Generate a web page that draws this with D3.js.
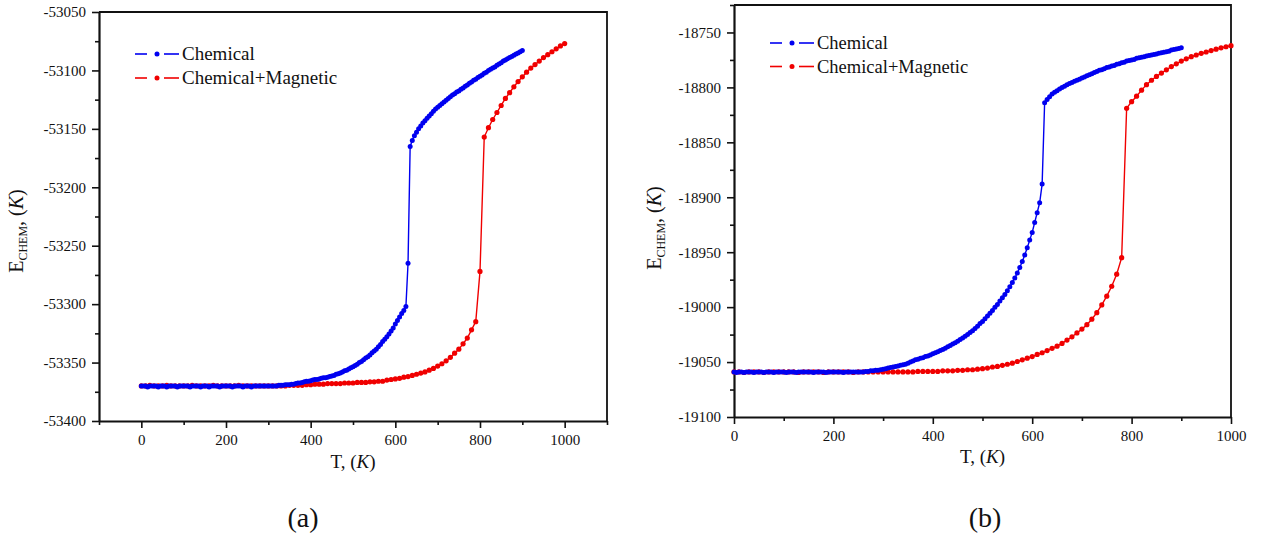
<!DOCTYPE html>
<html>
<head>
<meta charset="utf-8">
<script src="https://cdn.jsdelivr.net/npm/d3@7"></script>
<style>
  html, body { margin: 0; padding: 0; background: #fff; }
  svg { display: block; }
  svg text { font-family: "Liberation Serif", "Times New Roman", Times, Tinos, "DejaVu Serif", "Noto Serif", serif !important; fill: #111; }
</style>
</head>
<body>
<svg id="chart" width="1264" height="537"></svg>
<script>
// ---------------- DATA ----------------
// temperature grids (K)
const tChem = [0,5,10,15,20,25,30,35,40,45,50,55,60,65,70,75,80,85,90,95,
100,105,110,115,120,125,130,135,140,145,150,155,160,165,170,175,180,185,190,195,
200,205,210,215,220,225,230,235,240,245,250,255,260,265,270,275,280,285,290,295,
300,305,310,315,320,325,330,335,340,345,350,355,360,365,370,375,380,385,390,395,
400,405,410,415,420,425,430,435,440,445,450,455,460,465,470,475,480,485,490,495,
500,505,510,515,520,525,530,535,540,545,550,555,560,565,570,575,580,585,590,595,
600,605,610,615,620,625,630,635,640,645,650,655,660,665,670,675,680,685,690,695,
700,705,710,715,720,725,730,735,740,745,750,755,760,765,770,775,780,785,790,795,
800,805,810,815,820,825,830,835,840,845,850,855,860,865,870,875,880,885,890,895,900];
const tMag = [0,10,20,30,40,50,60,70,80,90,100,110,120,130,140,150,160,170,180,190,
200,210,220,230,240,250,260,270,280,290,300,310,320,330,340,350,360,370,380,390,
400,410,420,430,440,450,460,470,480,490,500,510,520,530,540,550,560,570,580,590,
600,610,620,630,640,650,660,670,680,690,700,710,720,730,740,750,760,770,780,790,
800,810,820,830,840,850,860,870,880,890,900,910,920,930,940,950,960,970,980,990,1000];

// (a) Chemical, E_CHEM (K) at tChem
const chemA = [
-53370,-53370,-53370,-53371,-53370,-53370,-53370,-53370,-53371,-53370,
-53370,-53370,-53371,-53370,-53370,-53370,-53370,-53371,-53370,-53370,
-53370,-53370,-53370,-53371,-53370,-53370,-53370,-53370,-53371,-53370,
-53370,-53370,-53371,-53370,-53370,-53370,-53370,-53371,-53370,-53370,
-53370,-53370,-53370,-53371,-53370,-53370,-53370,-53370,-53371,-53370,
-53370,-53370,-53371,-53370,-53370,-53370,-53370,-53370,-53370,-53370,
-53370,-53370,-53370,-53370,-53370,-53369.5,-53369.5,-53369.5,-53369,-53369,
-53369,-53368.5,-53368.5,-53368,-53367.5,-53367.5,-53367,-53366.5,-53366,-53366,
-53365.5,-53365,-53364.5,-53364.5,-53364,-53363.5,-53363,-53363,-53362.5,-53362,
-53361.5,-53361,-53360,-53359.5,-53359,-53358,-53357,-53356.5,-53355.5,-53354.5,
-53353.5,-53352.5,-53351.5,-53350,-53349,-53347.5,-53346,-53345,-53343.5,-53341.5,
-53340,-53338.5,-53336.5,-53334.5,-53332,-53330,-53328,-53325.5,-53323,-53320.5,
-53317,-53314,-53311,-53308,-53305.5,-53302,-53265,-53165,-53160,-53156,
-53153,-53150,-53147.5,-53145,-53143,-53141,-53139,-53137,-53135,-53133,
-53131.5,-53130,-53128.5,-53127,-53125.5,-53124,-53122.5,-53121,-53120,-53118.5,
-53117.5,-53116,-53115,-53113.5,-53112.5,-53111,-53110,-53108.5,-53107.5,-53106,
-53105,-53104,-53102.5,-53101.5,-53100,-53099,-53098,-53097,-53095.5,-53094.5,
-53093.5,-53092,-53091,-53090,-53089,-53088,-53087,-53086,-53085,-53084,
-53083];

// (a) Chemical+Magnetic at tMag
const magA = [
-53370,-53370,-53369.5,-53370,-53370,-53370,-53369.5,-53370,-53370,-53370,
-53370,-53370,-53369.5,-53370,-53370,-53370,-53370,-53369.5,-53370,-53370,
-53370,-53370,-53370,-53369.5,-53370,-53370,-53370,-53370,-53370,-53370,
-53370,-53370,-53370,-53370,-53370,-53369.5,-53369.5,-53369.5,-53369.5,-53369,
-53369,-53368.5,-53368.5,-53368.5,-53368,-53368,-53368,-53368,-53367.5,-53367.5,
-53367.5,-53367,-53367,-53367,-53366.5,-53366.5,-53366,-53366,-53365,-53364.5,
-53364,-53363.5,-53362.5,-53362,-53361,-53360,-53359,-53358,-53356.5,-53355,
-53353,-53351,-53348.5,-53345.5,-53342,-53338.5,-53334,-53329,-53322,-53315,
-53272,-53157,-53149,-53142,-53136,-53130,-53124,-53119,-53114,-53109.5,
-53105.5,-53101.5,-53098,-53095,-53092,-53089,-53086.5,-53084,-53081.5,-53079,
-53077];

// (b) Chemical at tChem
const chemB = [
-19059,-19059.5,-19059,-19059,-19059.5,-19059,-19059,-19059,-19059.5,-19059,
-19059,-19059,-19059.5,-19059,-19059,-19059,-19059.5,-19059,-19059,-19059,
-19059,-19059.5,-19059,-19059,-19059,-19059.5,-19059,-19059,-19059,-19059,
-19059,-19059,-19059.5,-19059,-19059,-19059,-19059,-19059.5,-19059,-19059,
-19059,-19059,-19059,-19059,-19059.5,-19059,-19059,-19059,-19059,-19059,
-19059,-19059,-19059,-19058.5,-19058.5,-19058,-19058,-19057.5,-19057.5,-19057,
-19056.5,-19056,-19055.5,-19055,-19054.5,-19054,-19053.5,-19053,-19052.5,-19052,
-19051,-19050,-19049,-19048,-19047.5,-19046.5,-19046,-19045,-19044.5,-19043.5,
-19042.5,-19041.5,-19040.5,-19039.5,-19038.5,-19037.5,-19036,-19035,-19033.5,-19032.5,
-19031,-19029.5,-19028,-19026.5,-19025,-19023,-19021.5,-19019.5,-19017.5,-19015,
-19013,-19010.5,-19008,-19005.5,-19003,-19000,-18997.5,-18994.5,-18991.5,-18988.5,
-18985,-18981.5,-18977.5,-18973.5,-18969,-18964,-18958.5,-18952.5,-18946,-18939,
-18932,-18923,-18914,-18905,-18888,-18814,-18811,-18808.5,-18806,-18804.5,
-18803,-18801.5,-18800,-18799,-18797.5,-18796.5,-18795.5,-18794.5,-18793.5,-18792.5,
-18791.5,-18790.5,-18789.5,-18788.5,-18787.5,-18786.5,-18785.5,-18784.5,-18784,-18783,
-18782,-18781.5,-18780.5,-18780,-18779,-18778.5,-18777.5,-18777,-18776,-18775.5,
-18775,-18774.5,-18773.5,-18773,-18772.5,-18772,-18771.5,-18771,-18770.5,-18770,
-18769.5,-18769,-18768.5,-18768,-18767.5,-18767,-18766,-18765.5,-18765,-18764.5,
-18764];

// (b) Chemical+Magnetic at tMag
const magB = [
-19059,-19059,-19059.5,-19059,-19059,-19059,-19059.5,-19059,-19059,-19059,
-19059,-19059,-19059,-19059.5,-19059,-19059,-19059,-19059,-19059.5,-19059,
-19059,-19059,-19059,-19059,-19059.5,-19059,-19059,-19059,-19059,-19059,
-19059,-19059,-19059,-19059,-19059,-19059,-19059,-19058.5,-19058.5,-19058.5,
-19058.5,-19058.5,-19058,-19058,-19058,-19057.5,-19057.5,-19057,-19057,-19056.5,
-19056,-19055.5,-19054.5,-19054,-19053,-19052,-19051,-19049.5,-19048,-19046.5,
-19045,-19043,-19041.5,-19039.5,-19037.5,-19035.5,-19033,-19030,-19027,-19023.5,
-19020,-19016,-19011,-19005,-18998,-18990,-18981,-18970,-18955,-18819,
-18813,-18808,-18802.5,-18797.5,-18793.5,-18790,-18787,-18784,-18781,-18778.5,
-18776,-18774,-18772,-18770.5,-18769,-18767.8,-18766.5,-18765.2,-18764,-18763,
-18762];

const seriesNames = ["Chemical", "Chemical+Magnetic"];
const seriesColors = ["#0000f0", "#f00000"];

const xTicksA = [0, 200, 400, 600, 800, 1000];
const xMinorA = [-100, 100, 300, 500, 700, 900, 1100];
const yTicksA = [-53400, -53350, -53300, -53250, -53200, -53150, -53100, -53050];
const yMinorA = [-53375, -53325, -53275, -53225, -53175, -53125, -53075];

const xTicksB = [0, 200, 400, 600, 800, 1000];
const xMinorB = [100, 300, 500, 700, 900];
const yTicksB = [-19100, -19050, -19000, -18950, -18900, -18850, -18800, -18750];
const yMinorB = [-19075, -19025, -18975, -18925, -18875, -18825, -18775, -18725];

const panelLabels = ["(a)", "(b)"];

// ---------------- DRAW ----------------
const FONT = '"Liberation Serif", "Times New Roman", Times, Tinos, "DejaVu Serif", "Noto Serif", serif';
const svg = d3.select("#chart");

function panel(cfg) {
  const x = d3.scaleLinear().domain(cfg.xDomain).range([cfg.left, cfg.right]);
  const y = d3.scaleLinear().domain(cfg.yDomain).range([cfg.bottom, cfg.top]);
  const g = svg.append("g").attr("font-family", FONT);

  // frame (top & right)
  g.append("path")
    .attr("d", `M${cfg.left},${cfg.top}H${cfg.right}V${cfg.bottom}`)
    .attr("fill", "none").attr("stroke", "#111").attr("stroke-width", 1.8);

  const fmt = d => String(d);
  // minor ticks
  g.append("g").attr("transform", `translate(0,${cfg.bottom})`)
    .call(d3.axisBottom(x).tickValues(cfg.xMinor).tickSize(4).tickFormat(""))
    .call(a => a.select(".domain").remove())
    .call(a => a.selectAll("line").attr("stroke", "#111").attr("stroke-width", 1.6));
  g.append("g").attr("transform", `translate(${cfg.left},0)`)
    .call(d3.axisLeft(y).tickValues(cfg.yMinor).tickSize(4).tickFormat(""))
    .call(a => a.select(".domain").remove())
    .call(a => a.selectAll("line").attr("stroke", "#111").attr("stroke-width", 1.6));

  // major axes
  const ax = g.append("g").attr("transform", `translate(0,${cfg.bottom})`)
    .call(d3.axisBottom(x).tickValues(cfg.xTicks).tickSize(7).tickSizeOuter(0).tickPadding(6).tickFormat(fmt));
  const ay = g.append("g").attr("transform", `translate(${cfg.left},0)`)
    .call(d3.axisLeft(y).tickValues(cfg.yTicks).tickSize(7).tickSizeOuter(0).tickPadding(cfg.yPad).tickFormat(fmt));
  [ax, ay].forEach(a => {
    a.attr("font-family", FONT);
    a.select(".domain").attr("stroke", "#111").attr("stroke-width", 2.2);
    a.selectAll(".tick line").attr("stroke", "#111").attr("stroke-width", 1.6);
    a.selectAll(".tick text")
      .attr("font-family", FONT)
      .attr("font-size", 15).attr("fill", "#111");
  });

  // series
  const sets = [
    { t: tMag, v: cfg.mag, color: seriesColors[1], r: 2.6 },
    { t: tChem, v: cfg.chem, color: seriesColors[0], r: 2.5 }
  ];
  sets.forEach(s => {
    const pts = s.t.map((t, i) => [t, s.v[i]]);
    g.append("path")
      .datum(pts)
      .attr("fill", "none")
      .attr("stroke", s.color)
      .attr("stroke-width", 1.4)
      .attr("d", d3.line().x(d => x(d[0])).y(d => y(d[1])));
    g.append("g").selectAll("circle")
      .data(pts).join("circle")
      .attr("cx", d => x(d[0]))
      .attr("cy", d => y(d[1]))
      .attr("r", s.r)
      .attr("fill", s.color);
  });

  // legend
  const lg = g.append("g");
  seriesNames.forEach((name, i) => {
    const yy = cfg.legY + i * cfg.legDy;
    const c = seriesColors[i];
    lg.append("line").attr("x1", cfg.legX).attr("x2", cfg.legX + 12)
      .attr("y1", yy).attr("y2", yy).attr("stroke", c).attr("stroke-width", 1.6);
    lg.append("circle").attr("cx", cfg.legX + 22).attr("cy", yy).attr("r", 2.5).attr("fill", c);
    lg.append("line").attr("x1", cfg.legX + 29).attr("x2", cfg.legX + 44)
      .attr("y1", yy).attr("y2", yy).attr("stroke", c).attr("stroke-width", 1.6);
    lg.append("text").attr("x", cfg.legX + 47).attr("y", yy + 6)
      .attr("font-size", cfg.legFont).text(name);
  });

  // x title
  const xt = g.append("text")
    .attr("x", (cfg.left + cfg.right) / 2).attr("y", cfg.xTitleY)
    .attr("text-anchor", "middle").attr("font-size", 19);
  xt.append("tspan").text("T, (");
  xt.append("tspan").attr("font-style", "italic").text("K");
  xt.append("tspan").text(")");

  // y title
  const yt = g.append("text")
    .attr("transform", `translate(${cfg.yTitleX},${cfg.yTitleY}) rotate(-90)`)
    .attr("text-anchor", "middle").attr("font-size", 20);
  yt.append("tspan").text("E");
  yt.append("tspan").attr("font-size", 12).attr("dy", 4).text("CHEM");
  yt.append("tspan").attr("dy", -4).text(", (");
  yt.append("tspan").attr("font-style", "italic").text("K");
  yt.append("tspan").text(")");

  // panel label
  svg.append("text").attr("x", cfg.labX).attr("y", 527)
    .attr("font-family", FONT)
    .attr("text-anchor", "middle").attr("font-size", 28).text(cfg.label);
}

panel({
  left: 99, right: 607, top: 12, bottom: 421,
  xDomain: [-100, 1100], yDomain: [-53400, -53050],
  xTicks: xTicksA, xMinor: xMinorA, yTicks: yTicksA, yMinor: yMinorA, yPad: 6,
  chem: chemA, mag: magA,
  legX: 135, legY: 54, legDy: 24, legFont: 19,
  xTitleY: 468, yTitleX: 23, yTitleY: 231,
  labX: 303, label: panelLabels[0]
});

panel({
  left: 734, right: 1231, top: 5, bottom: 417,
  xDomain: [0, 1000], yDomain: [-19100, -18725],
  xTicks: xTicksB, xMinor: xMinorB, yTicks: yTicksB, yMinor: yMinorB, yPad: 6,
  chem: chemB, mag: magB,
  legX: 770, legY: 43, legDy: 23.5, legFont: 18.5,
  xTitleY: 463, yTitleX: 661, yTitleY: 228,
  labX: 985, label: panelLabels[1]
});
</script>
</body>
</html>
